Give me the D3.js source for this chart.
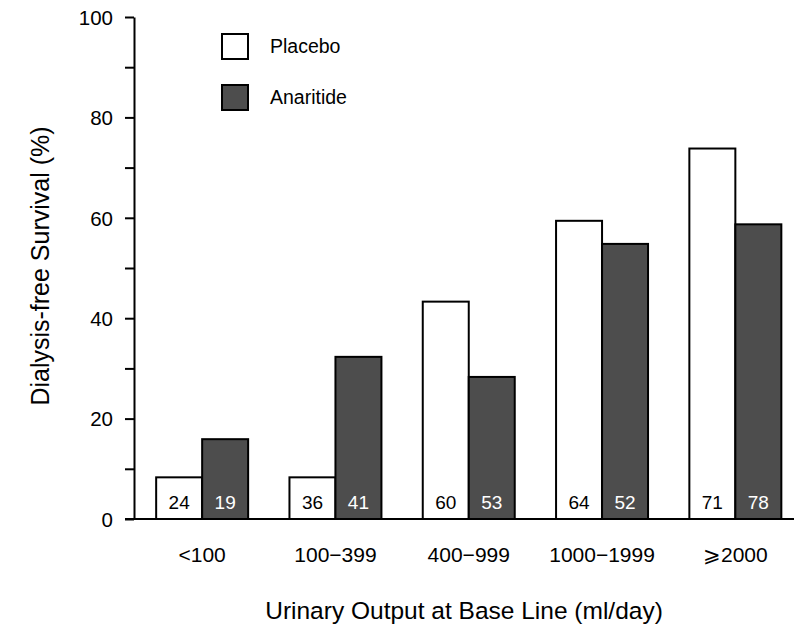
<!DOCTYPE html>
<html>
<head>
<meta charset="utf-8">
<script src="https://cdn.jsdelivr.net/npm/d3@7"></script>
<style>
  body { margin: 0; background: #fff; }
  text { font-family: "Liberation Sans", Arial, sans-serif; fill: #000; }
</style>
</head>
<body>
<div id="chart"></div>
<script>
// data
var categories = ["<100", "100\u2212399", "400\u2212999", "1000\u22121999", "\u2A7E2000"];
var series = ["Placebo", "Anaritide"];
var placebo = [8.3, 8.3, 43.3, 59.4, 73.8];
var anaritide = [15.9, 32.3, 28.3, 54.8, 58.7];
var placeboN = [24, 36, 60, 64, 71];
var anaritideN = [19, 41, 53, 52, 78];
var yTicks = [0, 10, 20, 30, 40, 50, 60, 70, 80, 90, 100];

var colors = {"Placebo": "#ffffff", "Anaritide": "#4d4d4d"};
var labelColors = {"Placebo": "#000", "Anaritide": "#fff"};

var width = 794, height = 624;
var axisX = 134, baseY = 519, topY = 17;

var svg = d3.select("#chart")
  .append("svg")
    .attr("width", width)
    .attr("height", height);

var y = d3.scaleLinear()
  .domain([0, 100])
  .range([baseY, topY]);

var x0 = d3.scaleBand()
  .domain(categories)
  .range([135.5, 802])
  .paddingInner(0.31)
  .paddingOuter(0.155);

var x1 = d3.scaleBand()
  .domain(series)
  .range([0, x0.bandwidth()]);

var rows = categories.map(function(c, i) {
  return {
    cat: c,
    values: [
      {key: "Placebo", value: placebo[i], n: placeboN[i]},
      {key: "Anaritide", value: anaritide[i], n: anaritideN[i]}
    ]
  };
});

// bars
var groups = svg.append("g")
  .selectAll("g")
  .data(rows)
  .enter().append("g")
    .attr("transform", function(d) { return "translate(" + x0(d.cat) + ",0)"; });

groups.selectAll("rect")
  .data(function(d) { return d.values; })
  .enter().append("rect")
    .attr("x", function(d) { return x1(d.key); })
    .attr("y", function(d) { return y(d.value); })
    .attr("width", x1.bandwidth())
    .attr("height", function(d) { return baseY - y(d.value); })
    .attr("fill", function(d) { return colors[d.key]; })
    .attr("stroke", "#000")
    .attr("stroke-width", 2);

groups.selectAll("text.n")
  .data(function(d) { return d.values; })
  .enter().append("text")
    .attr("class", "n")
    .attr("x", function(d) { return x1(d.key) + x1.bandwidth() / 2; })
    .attr("y", baseY - 10)
    .attr("text-anchor", "middle")
    .style("font-size", "19px")
    .style("fill", function(d) { return labelColors[d.key]; })
    .text(function(d) { return d.n; });

// y axis
var yAxis = svg.append("g")
  .attr("transform", "translate(" + axisX + ",0)")
  .call(d3.axisLeft(y)
    .tickValues(yTicks)
    .tickSize(9)
    .tickSizeOuter(0)
    .tickPadding(12)
    .tickFormat(function(d) { return d % 20 === 0 ? d : ""; }));

yAxis.selectAll("line").attr("stroke", "#000").attr("stroke-width", 2);
yAxis.select(".domain").attr("stroke", "#000").attr("stroke-width", 2);
yAxis.selectAll("text")
  .style("font-size", "20.5px")
  .attr("font-family", null)
  .attr("dy", "0.36em");

// x axis (baseline + category labels)
svg.append("line")
  .attr("x1", axisX - 9)
  .attr("x2", width)
  .attr("y1", baseY)
  .attr("y2", baseY)
  .attr("stroke", "#000")
  .attr("stroke-width", 2);

var xAxis = svg.append("g")
  .attr("transform", "translate(0," + baseY + ")")
  .call(d3.axisBottom(x0).tickSize(0).tickPadding(28));
xAxis.select(".domain").remove();
xAxis.selectAll("text")
  .style("font-size", "21px")
  .attr("font-family", null);

// axis titles
svg.append("text")
  .attr("x", 464)
  .attr("y", 619)
  .attr("text-anchor", "middle")
  .style("font-size", "24.5px")
  .text("Urinary Output at Base Line (ml/day)");

svg.append("text")
  .attr("transform", "translate(49,266) rotate(-90)")
  .attr("text-anchor", "middle")
  .style("font-size", "25px")
  .text("Dialysis-free Survival (%)");

// legend
var legend = svg.append("g")
  .selectAll("g")
  .data(series)
  .enter().append("g")
    .attr("transform", function(d, i) { return "translate(222," + (34 + i * 51) + ")"; });

legend.append("rect")
  .attr("width", 26)
  .attr("height", 25)
  .attr("fill", function(d) { return colors[d]; })
  .attr("stroke", "#000")
  .attr("stroke-width", 2);

legend.append("text")
  .attr("x", 48)
  .attr("y", 19)
  .style("font-size", "19.5px")
  .text(function(d) { return d; });
</script>
</body>
</html>
